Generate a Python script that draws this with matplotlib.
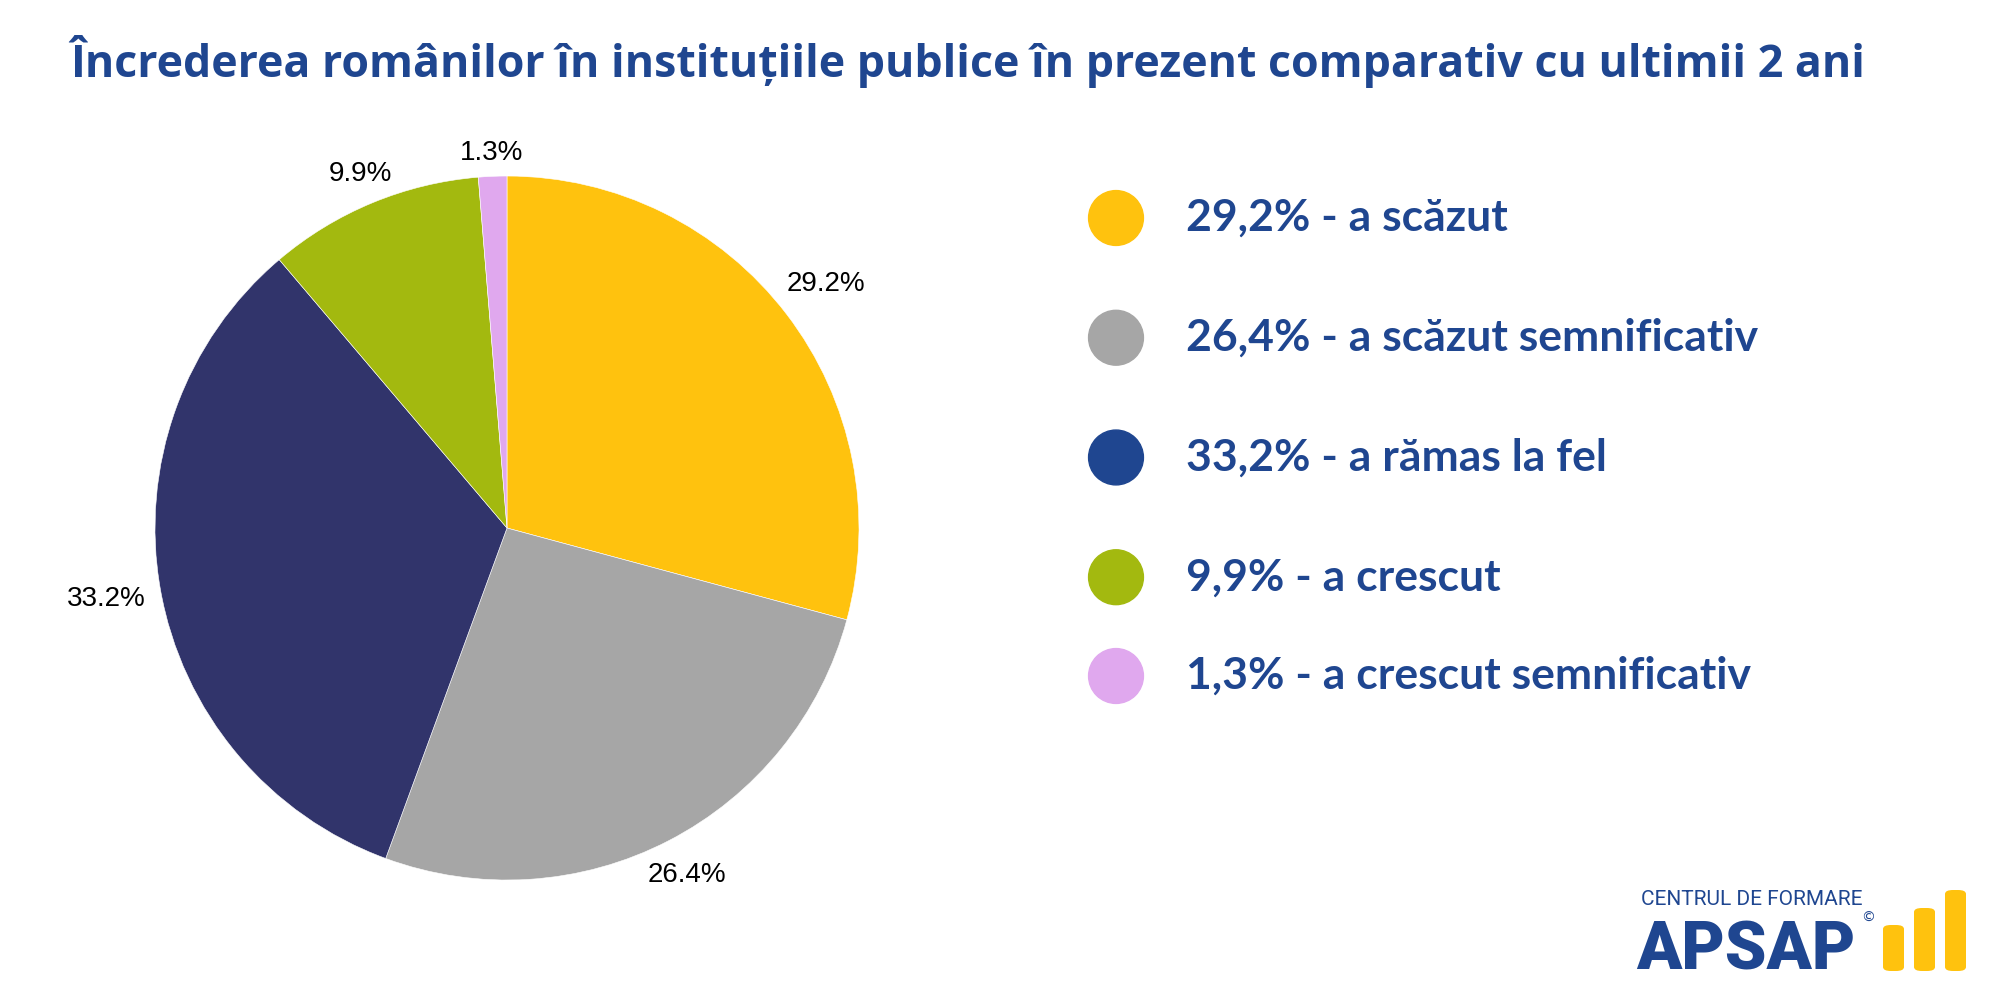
#!/usr/bin/env python3
"""Pie chart: trust of Romanians in public institutions vs. the last 2 years."""

import numpy as np
import matplotlib.pyplot as plt
from matplotlib.patches import FancyBboxPatch

title = "Încrederea românilor în instituțiile publice în prezent comparativ cu ultimii 2 ani"
categories = [
    "a scăzut",
    "a scăzut semnificativ",
    "a rămas la fel",
    "a crescut",
    "a crescut semnificativ",
]
shares = [29.2, 26.4, 33.2, 9.9, 1.3]
pie_colors = ["#FFC20E", "#A6A6A6", "#31346B", "#A3B90F", "#E0A8EE"]
legend_colors = ["#FFC20E", "#A6A6A6", "#1F4690", "#A3B90F", "#E0A8EE"]

# layout helpers
label_dist = [1.14, 1.11, 1.155, 1.09, 1.066]   # radial distance of each pie label
legend_rows = [0, 1, 2, 3, 3.825]                # vertical slot of each legend entry

BLUE = "#1F4690"

fig = plt.figure(figsize=(20, 10.01), dpi=100)
fig.patch.set_facecolor("white")

fig.text(0.035, 0.923, title, fontsize=32.2, fontweight="bold", color=BLUE,
         family="Open Sans", ha="left", va="baseline")

# pie
ax = fig.add_axes([0.0335, 0.0325, 0.44, 0.88])
wedges, _ = ax.pie(
    shares,
    colors=pie_colors,
    startangle=90,
    counterclock=False,
    wedgeprops={"edgecolor": "white", "linewidth": 0.4},
)
for w, v, d in zip(wedges, shares, label_dist):
    mid = np.deg2rad((w.theta1 + w.theta2) / 2)
    ax.text(d * np.cos(mid), d * np.sin(mid), f"{v:.1f}%", fontsize=20,
            family="Liberation Sans", color="black", ha="center", va="center")
ax.set_xlim(-1.25, 1.25)
ax.set_ylim(-1.25, 1.25)
ax.set_aspect("equal")

# legend
lax = fig.add_axes([0.53, 1 - 676 / 1001, 0.4, (676 - 218) / 1001])
lax.set_xlim(0, 1)
lax.set_ylim(legend_rows[-1], legend_rows[0])
lax.axis("off")
lax.scatter([0.07] * len(shares), legend_rows, s=1560, c=legend_colors,
            zorder=3, clip_on=False)
for row, v, lab in zip(legend_rows, shares, categories):
    text = f"{v:.1f}".replace(".", ",") + f"% - {lab}"
    lax.text(0.157, row, text, fontsize=32, fontweight="bold", color=BLUE,
             family="Lato", ha="left", va="center")

# logo
fig.text(0.8205, 0.096, "CENTRUL DE FORMARE", fontsize=15, color=BLUE,
         family="Roboto", ha="left", va="baseline")
fig.text(0.818, 0.031, "APSAP", fontsize=48, fontweight="heavy", color=BLUE,
         family="Roboto", ha="left", va="baseline")
fig.text(0.9305, 0.083, "©", fontsize=10, color=BLUE, family="DejaVu Sans",
         ha="left", va="center")
for x0, top in [(1883, 925), (1914, 908), (1945, 890)]:
    fig.patches.append(FancyBboxPatch(
        (x0 / 2000, 1 - 971 / 1001), 21 / 2000, (971 - top) / 1001,
        boxstyle="round,pad=0,rounding_size=0.004", transform=fig.transFigure,
        facecolor="#FFC20E", edgecolor="none"))

fig.savefig("out.png", dpi=100, facecolor="white")
